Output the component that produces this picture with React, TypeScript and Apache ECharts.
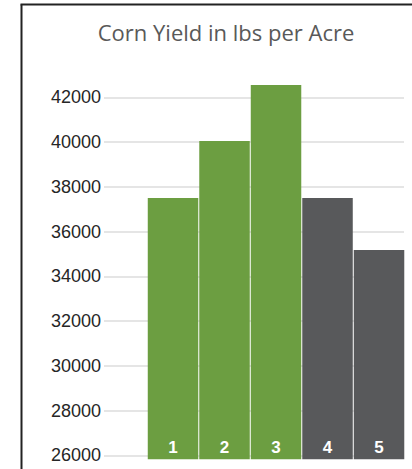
import React, { useEffect, useRef } from "react";
import * as echarts from "echarts";

const categories = ["1", "2", "3", "4", "5"];
const yields = [37500, 40050, 42550, 37500, 35180];
const groups = ["A", "A", "A", "B", "B"];
const tickValues = [26000, 28000, 30000, 32000, 34000, 36000, 38000, 40000, 42000];
const titleText = "Corn Yield in lbs per Acre";

const groupColors: Record<string, string> = { A: "#6c9e41", B: "#58595b" };

export default function App() {
  const ref = useRef<HTMLDivElement>(null);
  useEffect(() => {
    if (!ref.current) return;
    const chart = echarts.init(ref.current, null, { renderer: "svg" });
    const seriesData = categories.map((c, i) => ({
      name: c,
      value: [i + 1, yields[i]],
      itemStyle: { color: groupColors[groups[i]] },
    }));
    chart.setOption({
      animation: false,
      backgroundColor: "#ffffff",
      grid: { left: 104, right: 8, top: 75, bottom: 9.7 },
      xAxis: {
        type: "value",
        min: -0.34,
        max: 5.485,
        show: false,
      },
      yAxis: {
        type: "value",
        min: 25820,
        max: 43000,
        axisLine: { show: false },
        axisTick: { show: false, customValues: tickValues },
        axisLabel: {
          customValues: tickValues,
          formatter: (v: number) => String(v),
          margin: 3,
          fontSize: 18,
          color: "#262626",
          fontFamily: "Liberation Sans, Arial, sans-serif",
        },
        splitLine: { show: true, lineStyle: { color: "#dcdcdc", width: 1.5 } },
      },
      series: [
        {
          type: "bar",
          barWidth: 50.5,
          data: seriesData,
          label: {
            show: true,
            position: "insideBottom",
            distance: 3,
            formatter: (p: any) => p.name,
            color: "#ffffff",
            fontSize: 17,
            fontWeight: "bold",
            fontFamily: "Liberation Sans, Arial, sans-serif",
          },
        },
      ],
      graphic: [
        {
          type: "text",
          x: 226,
          y: 32,
          style: {
            text: titleText,
            fill: "#595959",
            fontSize: 22,
            fontFamily: "Open Sans, sans-serif",
            align: "center",
            verticalAlign: "middle",
          },
        },
        {
          type: "line",
          shape: { x1: 21.5, y1: 4.5, x2: 21.5, y2: 469 },
          style: { stroke: "#222222", lineWidth: 2 },
        },
        {
          type: "line",
          shape: { x1: 20.5, y1: 4.5, x2: 412, y2: 4.5 },
          style: { stroke: "#222222", lineWidth: 2 },
        },
      ],
    });
    return () => chart.dispose();
  }, []);
  return (
    <div
      ref={ref}
      style={{ position: "absolute", left: 0, top: 0, width: 412, height: 469 }}
    />
  );
}
